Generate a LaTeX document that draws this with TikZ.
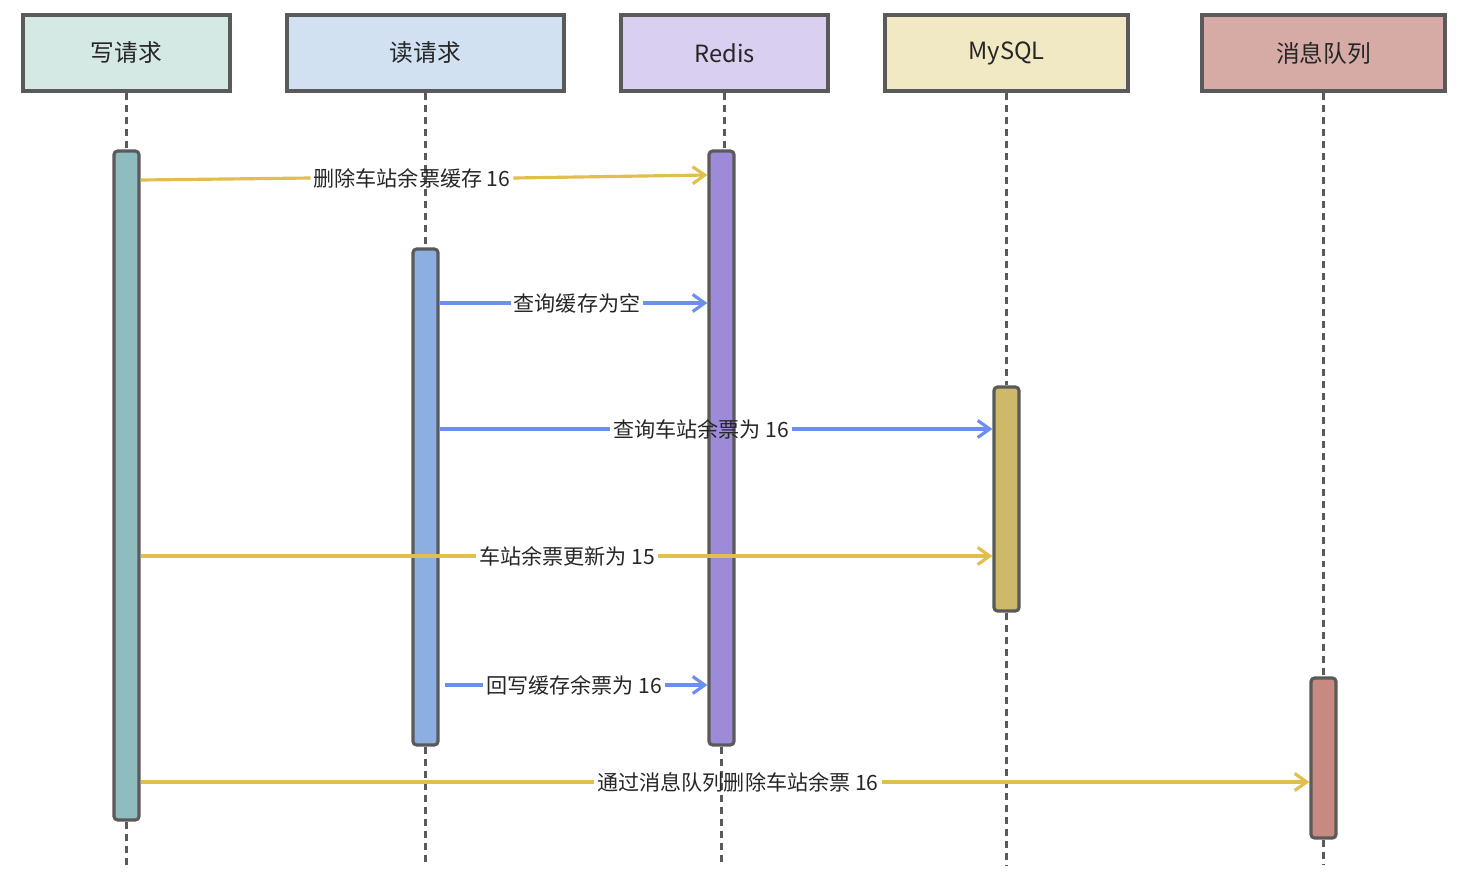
\documentclass[tikz,border=0pt]{standalone}
\usepackage{fontspec}
\setmainfont{Noto Sans CJK SC}
\usetikzlibrary{arrows.meta}
\definecolor{edge}{HTML}{5A5A5A}
\definecolor{txt}{HTML}{262626}
\definecolor{writehd}{HTML}{D4E9E4}
\definecolor{writeac}{HTML}{8FBDBF}
\definecolor{readhd}{HTML}{D2E1F2}
\definecolor{readac}{HTML}{8DAEE0}
\definecolor{redishd}{HTML}{D9CFF1}
\definecolor{redisac}{HTML}{9D8BD9}
\definecolor{mysqlhd}{HTML}{F1E9C3}
\definecolor{mysqlac}{HTML}{CEB86A}
\definecolor{mqhd}{HTML}{D6ABA5}
\definecolor{mqac}{HTML}{C68A83}
\definecolor{msgy}{HTML}{E0BF4F}
\definecolor{msgb}{HTML}{6B8EF0}
\tikzset{
  % header boxes on top of each lifeline
  head/.style={draw=edge, line width=1.8pt, minimum height=1.52cm, inner sep=0pt,
    text=txt, font=\fontsize{13.5}{16}\selectfont},
  % activation bars
  act/.style={draw=edge, line width=1.8pt, rounded corners=2pt, minimum width=0.5cm, inner sep=0pt},
  lifeline/.style={draw=edge, line width=1.8pt, dash pattern=on 0.14cm off 0.1cm},
  msglabel/.style={text=txt, font=\fontsize{12}{14}\selectfont, inner sep=1.5pt},
  msg/.style={line width=1.8pt, draw=#1},
  msgto/.style={line width=1.8pt, draw=#1, -{Straight Barb[length=0.24cm,width=0.34cm,line width=1.8pt]}},
}
\begin{document}
\begin{tikzpicture}[x=0.02cm, y=-0.02cm]
  \useasboundingbox (0,0) rectangle (1470,886);
  % headers
  \node[head, fill=writehd, minimum width=4.14cm] (write) at (126.5,53) {写请求};
  \node[head, fill=readhd, minimum width=5.54cm] (read) at (425.5,53) {读请求};
  \node[head, fill=redishd, minimum width=4.14cm] (redis) at (724.5,53) {Redis};
  \node[head, fill=mysqlhd, minimum width=4.86cm] (mysql) at (1006.5,53) {MySQL};
  \node[head, fill=mqhd, minimum width=4.86cm] (mq) at (1323.5,53) {消息队列};
  % activation bars
  \node[act, fill=writeac, minimum height=13.38cm] (writeact) at (126.5,485.5) {};
  \node[act, fill=readac, minimum height=9.92cm] (readact) at (425.5,497) {};
  \node[act, fill=redisac, minimum height=11.88cm] (redisact) at (721.5,448) {};
  \node[act, fill=mysqlac, minimum height=4.48cm] (mysqlact) at (1006.5,499) {};
  \node[act, fill=mqac, minimum height=3.2cm] (mqact) at (1323.5,758) {};
  % lifelines
  \foreach \h/\a in {write/writeact, read/readact, redis/redisact, mysql/mysqlact, mq/mqact} {
    \draw[lifeline] (\h.south) -- (\h.south |- \a.north);
    \draw[lifeline] (\a.south) -- (\a.south |- 0,865);
  }
  % messages
  \node[msglabel] (m1) at (412,178) {删除车站余票缓存 16};
  \draw[msg=msgy] (writeact.east |- 0,180) -- (m1.west);
  \draw[msgto=msgy] (m1.east) -- (redisact.west |- 0,175);
  \node[msglabel] (m2) at (577,303) {查询缓存为空};
  \draw[msg=msgb] (readact.east |- m2) -- (m2.west);
  \draw[msgto=msgb] (m2.east) -- (redisact.west |- m2);
  \node[msglabel] (m3) at (701,429) {查询车站余票为 16};
  \draw[msg=msgb] (readact.east |- m3) -- (m3.west);
  \draw[msgto=msgb] (m3.east) -- (mysqlact.west |- m3);
  \node[msglabel] (m4) at (567,556) {车站余票更新为 15};
  \draw[msg=msgy] (writeact.east |- m4) -- (m4.west);
  \draw[msgto=msgy] (m4.east) -- (mysqlact.west |- m4);
  \node[msglabel] (m5) at (574,685) {回写缓存余票为 16};
  \draw[msg=msgb] ([xshift=0.1cm]readact.east |- m5) -- (m5.west);
  \draw[msgto=msgb] (m5.east) -- (redisact.west |- m5);
  \node[msglabel] (m6) at (738,782) {通过消息队列删除车站余票 16};
  \draw[msg=msgy] (writeact.east |- m6) -- (m6.west);
  \draw[msgto=msgy] (m6.east) -- (mqact.west |- m6);
\end{tikzpicture}
\end{document}
